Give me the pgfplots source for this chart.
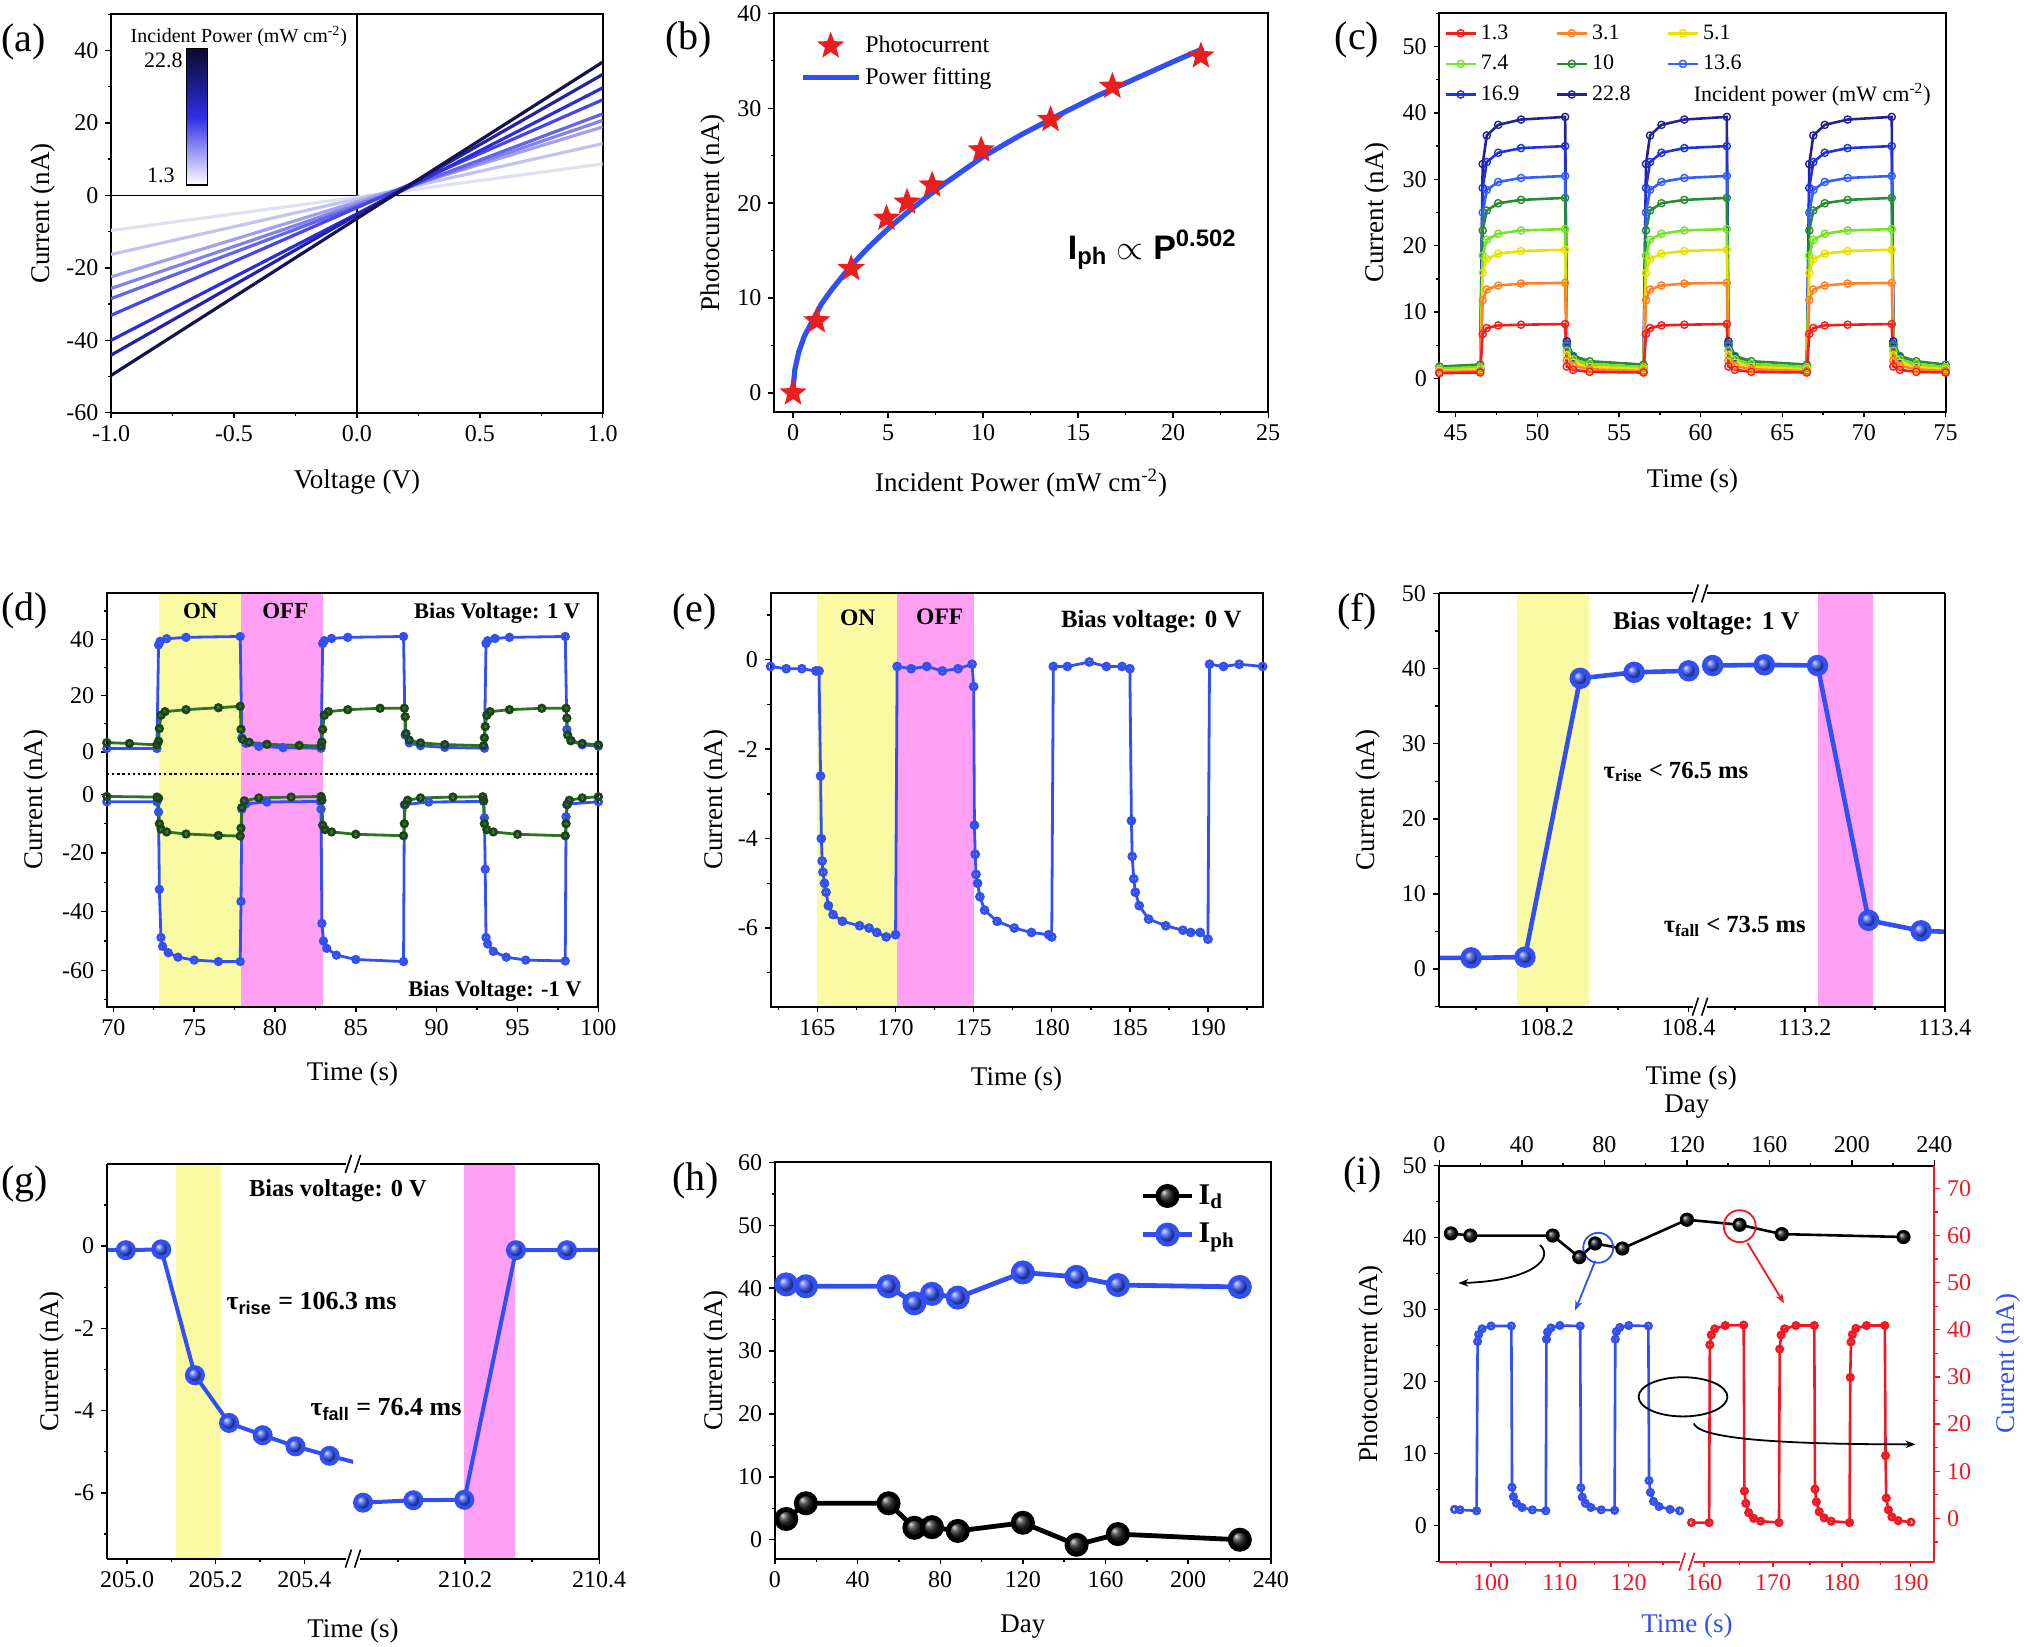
\documentclass[border=0pt]{standalone}
\usepackage{fontspec}
\setmainfont{Liberation Serif}
\setsansfont{Liberation Sans}
\usepackage{pgfplots}
\pgfplotsset{compat=1.18}
\usepackage{pgfplotstable}
\usetikzlibrary{arrows.meta}

\definecolor{mblue}{RGB}{50,80,240}
\definecolor{yel}{RGB}{250,250,165}
\definecolor{pnk}{RGB}{255,160,245}
\definecolor{dgreen}{RGB}{45,115,35}
\definecolor{ired}{RGB}{240,25,35}
\definecolor{sred}{RGB}{235,30,30}
\definecolor{a1}{RGB}{225,225,245}
\definecolor{a2}{RGB}{195,195,240}
\definecolor{a3}{RGB}{160,160,238}
\definecolor{a4}{RGB}{130,130,238}
\definecolor{a5}{RGB}{100,100,238}
\definecolor{a6}{RGB}{70,70,236}
\definecolor{a7}{RGB}{45,45,222}
\definecolor{a8}{RGB}{35,35,170}
\definecolor{a9}{RGB}{20,20,80}
\definecolor{cA}{RGB}{240,30,30}
\definecolor{cB}{RGB}{255,130,40}
\definecolor{cC}{RGB}{235,225,0}
\definecolor{cD}{RGB}{120,225,40}
\definecolor{cE}{RGB}{40,140,50}
\definecolor{cF}{RGB}{50,95,255}
\definecolor{cG}{RGB}{30,50,225}
\definecolor{cH}{RGB}{35,35,150}
\definecolor{cbtop}{RGB}{10,10,40}
\definecolor{cbmid}{RGB}{45,45,230}

\newcommand{\tkf}{\fontsize{12}{14}\selectfont}
\newcommand{\xlf}{\fontsize{13.5}{16}\selectfont}
\newcommand{\ylf}{\fontsize{13.5}{16}\selectfont}
\newcommand{\plf}{\fontsize{20}{22}\selectfont}

\newcommand{\brk}[3][black]{%
  \draw[#1,line width=0.8pt] ({#2-3.8pt},{#3-4.5pt}) -- ({#2-0.8pt},{#3+4.5pt});
  \draw[#1,line width=0.8pt] ({#2+0.8pt},{#3-4.5pt}) -- ({#2+3.8pt},{#3+4.5pt});}

\pgfdeclareplotmark{fstar}{%
  \pgfpathmoveto{\pgfpointpolar{90}{\pgfplotmarksize}}%
  \pgfpathlineto{\pgfpointpolar{126}{0.42*\pgfplotmarksize}}%
  \pgfpathlineto{\pgfpointpolar{162}{\pgfplotmarksize}}%
  \pgfpathlineto{\pgfpointpolar{198}{0.42*\pgfplotmarksize}}%
  \pgfpathlineto{\pgfpointpolar{234}{\pgfplotmarksize}}%
  \pgfpathlineto{\pgfpointpolar{270}{0.42*\pgfplotmarksize}}%
  \pgfpathlineto{\pgfpointpolar{306}{\pgfplotmarksize}}%
  \pgfpathlineto{\pgfpointpolar{342}{0.42*\pgfplotmarksize}}%
  \pgfpathlineto{\pgfpointpolar{18}{\pgfplotmarksize}}%
  \pgfpathlineto{\pgfpointpolar{54}{0.42*\pgfplotmarksize}}%
  \pgfpathclose
  \pgfusepathqfill}

\pgfplotsset{
  panel/.style={
    scale only axis,
    tick align=outside,
    xtick pos=left, ytick pos=left,
    major tick length=2.8pt,
    minor tick length=1.6pt,
    tick style={black, line width=0.7pt},
    axis line style={line width=1pt},
    tick label style={font=\tkf},
    /pgf/number format/assume math mode=true,
    xlabel style={font=\xlf},
    ylabel style={font=\ylf},
  },
}

% ---------- data (c)
\pgfplotstableread{
t a b c d e f g h
44.0 0.8 1.0 1.2 1.5 1.8 1.2 1.0 0.9
46.5 0.9 1.1 1.4 1.7 2.1 1.5 1.4 1.3
46.65 6.7 11.8 15.9 18.5 22.3 25.0 28.7 32.3
46.9 7.6 13.4 18.0 20.9 25.3 28.4 32.6 36.6
47.6 8.0 14.0 18.8 21.8 26.4 29.6 34.0 38.2
49.0 8.1 14.3 19.2 22.3 26.9 30.2 34.7 39.0
51.7 8.2 14.4 19.4 22.5 27.2 30.5 35.0 39.4
51.8 1.8 2.7 3.5 4.2 5.1 4.9 5.2 5.6
52.2 1.3 1.9 2.4 2.9 3.4 3.0 3.1 3.3
53.2 1.0 1.4 1.8 2.2 2.6 2.1 2.0 2.1
56.5 0.9 1.1 1.4 1.7 2.1 1.5 1.4 1.3
56.65 6.7 11.8 15.9 18.5 22.3 25.0 28.7 32.3
56.9 7.6 13.4 18.0 20.9 25.3 28.4 32.6 36.6
57.6 8.0 14.0 18.8 21.8 26.4 29.6 34.0 38.2
59.0 8.1 14.3 19.2 22.3 26.9 30.2 34.7 39.0
61.6 8.2 14.4 19.4 22.5 27.2 30.5 35.0 39.4
61.7 1.8 2.7 3.5 4.2 5.1 4.9 5.2 5.6
62.1 1.3 1.9 2.4 2.9 3.4 3.0 3.1 3.3
63.1 1.0 1.4 1.8 2.2 2.6 2.1 2.0 2.1
66.5 0.9 1.1 1.4 1.7 2.1 1.5 1.4 1.3
66.65 6.7 11.8 15.9 18.5 22.3 25.0 28.7 32.3
66.9 7.6 13.4 18.0 20.9 25.3 28.4 32.6 36.6
67.6 8.0 14.0 18.8 21.8 26.4 29.6 34.0 38.2
69.0 8.1 14.3 19.2 22.3 26.9 30.2 34.7 39.0
71.7 8.2 14.4 19.4 22.5 27.2 30.5 35.0 39.4
71.8 1.8 2.7 3.5 4.2 5.1 4.9 5.2 5.6
72.2 1.3 1.9 2.4 2.9 3.4 3.0 3.1 3.3
73.2 1.0 1.4 1.8 2.2 2.6 2.1 2.0 2.1
75.0 0.9 1.1 1.4 1.7 2.1 1.5 1.4 1.3
}\dataC

% ---------- data (d)
\pgfplotstableread{
t y
69.6 1.2
72.7 1.2
72.8 38.0
72.9 39.3
73.3 40.2
74.5 40.7
77.85 41.0
77.95 5.0
78.2 3.0
79.0 2.0
80.5 1.5
82.85 1.3
82.95 38.5
83.05 39.5
83.5 40.3
84.5 40.7
87.95 41.0
88.05 6.0
88.3 3.2
89.0 2.2
90.5 1.6
92.95 1.3
93.05 38.5
93.15 39.5
93.6 40.3
94.5 40.7
97.95 41.0
98.05 8.0
98.3 4.0
99.0 2.5
100 2.0
}\dUB
\pgfplotstableread{
t y
69.6 3.3
71.0 3.0
72.7 2.5
72.8 3.8
72.85 8.3
72.95 13.0
73.2 14.3
74.5 15.0
76.5 15.7
77.85 16.2
77.9 8.0
78.0 4.5
78.4 3.4
79.5 2.7
81.5 2.3
82.85 2.1
82.9 3.5
82.95 8.0
83.05 13.0
83.3 14.3
84.5 15.0
86.5 15.5
88.0 15.5
88.05 12.5
88.1 6.5
88.3 4.2
89.0 3.2
90.5 2.6
92.9 2.2
92.95 5.0
93.0 9.0
93.1 13.0
93.3 14.3
94.5 15.0
96.5 15.5
98.0 15.5
98.05 12.0
98.1 6.0
98.3 4.0
99.0 3.0
100 2.5
}\dUG
\pgfplotstableread{
t y
69.6 -2.5
72.7 -2.5
72.8 -6
72.85 -32.4
72.95 -48.8
73.05 -51.8
73.4 -54.0
74.0 -55.5
75.0 -56.5
76.5 -57.0
77.85 -57.0
77.9 -36.5
77.95 -5.0
78.2 -3.2
79.5 -2.6
82.8 -2.4
82.85 -5
82.9 -44.0
83.0 -50.0
83.2 -52.5
83.8 -54.8
85.0 -56.3
87.95 -57.0
88.0 -3.5
89.5 -2.6
92.9 -2.4
92.95 -8
93.0 -25.5
93.05 -48.8
93.15 -51.0
93.5 -53.5
94.3 -55.5
95.5 -56.5
97.95 -56.8
98.0 -7.6
98.1 -3.3
100 -2.5
}\dLB
\pgfplotstableread{
t y
69.6 -0.7
72.7 -0.9
72.8 -1.3
72.85 -10.0
72.95 -11.8
73.3 -12.8
74.5 -13.5
76.5 -14.0
77.85 -14.2
77.9 -11.5
77.95 -4.5
78.1 -2.2
79 -1.2
81 -0.9
82.85 -0.7
82.9 -2
82.95 -10.5
83.1 -12.0
83.5 -12.8
85 -13.6
87.95 -14.1
88.0 -10
88.05 -3.5
88.2 -2
89 -1.2
91 -0.9
92.85 -0.8
92.9 -2
92.95 -10.0
93.1 -12
93.5 -12.8
95 -13.6
97.95 -14.1
98.0 -10
98.05 -3.5
98.2 -2
99 -1.2
100 -0.8
}\dLG

% ---------- data (e)
\pgfplotstableread{
t y
162.0 -0.15
163.0 -0.2
164.0 -0.2
164.9 -0.25
165.1 -0.25
165.2 -2.6
165.25 -4.0
165.3 -4.5
165.35 -4.75
165.45 -5.0
165.55 -5.2
165.7 -5.5
166.0 -5.7
166.6 -5.85
167.7 -5.95
168.3 -6.0
168.8 -6.1
169.4 -6.2
170.0 -6.15
170.1 -0.15
171.0 -0.2
172.0 -0.15
173.0 -0.25
174.0 -0.2
174.9 -0.1
175.0 -0.6
175.05 -3.7
175.1 -4.35
175.15 -4.8
175.25 -5.0
175.4 -5.3
175.7 -5.6
176.5 -5.85
177.6 -6.0
178.7 -6.1
179.8 -6.15
180.0 -6.2
180.1 -0.15
181.0 -0.15
182.4 -0.05
183.5 -0.15
184.5 -0.15
185.0 -0.2
185.1 -3.6
185.15 -4.4
185.25 -4.9
185.35 -5.2
185.6 -5.5
186.2 -5.8
187.3 -5.95
188.4 -6.05
188.9 -6.1
189.5 -6.1
190.0 -6.25
190.1 -0.1
191.0 -0.15
192.0 -0.1
193.5 -0.15
}\dataE

% ---------- data (i)
\pgfplotstableread{
t y
94.7 1.9
95.5 1.8
97.9 1.6
98.05 37.5
98.2 39.0
98.7 40.2
100.0 40.8
102.95 40.8
103.05 6.6
103.25 4.6
103.7 3.2
104.5 2.3
106.0 1.8
107.95 1.6
108.05 38.0
108.2 39.5
108.7 40.4
110.0 40.9
112.95 40.8
113.05 6.5
113.25 4.5
113.7 3.2
114.5 2.3
116.0 1.8
117.95 1.7
118.05 38.0
118.2 39.6
118.7 40.5
120.0 40.9
122.85 40.8
122.95 8.0
123.15 5.5
123.6 3.6
124.4 2.5
126.0 1.9
127.4 1.6
}\dIB
\pgfplotstableread{
t y
158.2 -0.9
160.7 -0.9
160.8 36.8
161.0 38.9
161.5 40.2
163.0 40.9
165.6 41.0
165.7 5.8
165.9 3.2
166.3 1.2
167.0 0.0
168.0 -0.6
170.6 -0.9
170.7 35.9
170.9 38.9
171.4 40.2
173.0 40.9
175.6 40.9
175.7 6.2
175.9 3.5
176.3 1.4
177.0 0.1
178.0 -0.6
180.6 -0.9
180.7 29.9
180.8 37.4
181.0 39.0
181.5 40.3
183.0 40.9
185.6 40.9
185.7 13.3
185.8 4.3
186.1 1.8
186.6 0.3
187.5 -0.5
189.3 -0.8
}\dIR

\begin{document}
\begin{tikzpicture}
\useasboundingbox (0,0) rectangle (1012pt,-823.5pt);

% ================= (a)
\begin{axis}[panel, at={(55.55pt,-206.35pt)}, anchor=south west, width=245.8pt, height=199.2pt,
  xmin=-1, xmax=1, ymin=-60, ymax=50,
  xtick={-1,-0.5,0,0.5,1}, minor xtick={-0.75,-0.25,0.25,0.75},
  ytick={-60,-40,-20,0,20,40}, minor ytick={-50,-30,-10,10,30,50},
  xticklabel style={/pgf/number format/fixed, /pgf/number format/fixed zerofill, /pgf/number format/precision=1},
  xlabel={Voltage (V)}, ylabel={Current (nA)},
  xlabel style={at={(axis description cs:0.5,-0.173)}, anchor=center},
  ylabel style={at={(axis description cs:-0.139,0.5)}, anchor=center},
]
\draw[line width=0.7pt] (axis cs:-1,0) -- (axis cs:1,0);
\draw[line width=0.7pt] (axis cs:0,-60) -- (axis cs:0,50);
\addplot[a1, line width=1.6pt] coordinates {(-1,-9.7) (0,-0.5) (1,8.7)};
\addplot[a2, line width=1.6pt] coordinates {(-1,-16.3) (0,-1.0) (1,14.3)};
\addplot[a3, line width=1.6pt] coordinates {(-1,-22.5) (0,-1.8) (1,18.9)};
\addplot[a4, line width=1.6pt] coordinates {(-1,-25.7) (0,-2.5) (1,20.7)};
\addplot[a5, line width=1.6pt] coordinates {(-1,-28.5) (0,-3.0) (1,22.5)};
\addplot[a6, line width=1.6pt] coordinates {(-1,-33.1) (0,-3.4) (1,26.4)};
\addplot[a7, line width=1.6pt] coordinates {(-1,-40.0) (0,-5.1) (1,29.7)};
\addplot[a8, line width=1.6pt] coordinates {(-1,-44.1) (0,-5.4) (1,33.4)};
\addplot[a9, line width=1.6pt] coordinates {(-1,-49.7) (0,-6.4) (1,36.8)};
\end{axis}
\shadedraw[top color=cbtop, bottom color=white, middle color=cbmid, draw=black, line width=0.6pt] (93.35pt,-24.15pt) rectangle (103.65pt,-92.5pt);
\node[anchor=east, font=\fontsize{11}{13}\selectfont, inner sep=0.5pt] at (92pt,-30pt) {22.8};
\node[anchor=east, font=\fontsize{11}{13}\selectfont, inner sep=0.5pt] at (88pt,-87.8pt) {1.3};
\node[font=\fontsize{10}{12}\selectfont] at (119.45pt,-18.35pt) {Incident Power (mW cm\textsuperscript{-2})};

% ================= (b)
\begin{axis}[panel, at={(387pt,-206pt)}, anchor=south west, width=247.1pt, height=199.35pt,
  xmin=-1, xmax=25, ymin=-2, ymax=40,
  xtick={0,5,...,25}, minor xtick={2.5,7.5,...,22.5},
  ytick={0,10,...,40}, minor ytick={5,15,...,35},
  xlabel={Incident Power (mW cm\textsuperscript{-2})}, ylabel={Photocurrent (nA)},
  xlabel style={at={(axis description cs:0.5,-0.178)}, anchor=center},
  ylabel style={at={(axis description cs:-0.123,0.5)}, anchor=center},
  legend style={at={(0.052,0.955)}, anchor=north west, draw=none, fill=none, inner sep=0pt, font=\fontsize{12}{14}\selectfont, row sep=2pt},
  legend cell align=left,
  legend image code/.code={\draw[mark repeat=2,mark phase=2,#1] plot coordinates {(0pt,0pt) (14pt,0pt) (28pt,0pt)};},
]
\addplot[only marks, mark=fstar, mark size=7.2pt, color=sred] coordinates {(0,0) (1.25,7.6) (3.06,13.1) (4.92,18.4) (6.0,20.1) (7.32,21.9) (9.9,25.6) (13.55,28.8) (16.8,32.3) (21.46,35.5)};
\addlegendentry{Photocurrent}
\addplot[mblue, line width=2.6pt] coordinates {(0,0.5) (0.1,2.5) (0.3,4.3) (0.6,6.0) (1,7.5) (1.5,9.4) (2,10.8) (3,13.3) (4,15.4) (5,17.3) (6,19.0) (7,20.6) (8,22.1) (10,24.9) (12,27.2) (14,29.3) (16,31.3) (18,33.1) (20,34.9) (21.6,36.3)};
\addlegendentry{Power fitting}
\node[font=\sffamily\bfseries\fontsize{17}{20}\selectfont] at (axis cs:18.9,15.1) {I\textsubscript{ph} $\propto$ P\textsuperscript{0.502}};
\end{axis}

% ================= (c)
\begin{axis}[panel, at={(719.7pt,-205.85pt)}, anchor=south west, width=253.1pt, height=199.2pt,
  xmin=44, xmax=75, ymin=-5, ymax=55,
  xtick={45,50,...,75}, minor xtick={47.5,52.5,...,72.5},
  ytick={0,10,...,50}, minor ytick={-5,5,...,55},
  xlabel={Time (s)}, ylabel={Current (nA)},
  xlabel style={at={(axis description cs:0.5,-0.175)}, anchor=center},
  ylabel style={at={(axis description cs:-0.123,0.5)}, anchor=center},
  legend columns=3, reverse legend,
  legend style={at={(0.009,0.983)}, anchor=north west, draw=none, fill=none, inner sep=0pt, font=\fontsize{11}{13}\selectfont, row sep=2.5pt,
    /tikz/every even column/.append style={column sep=16pt}},
  legend cell align=left,
  legend image code/.code={\draw[mark repeat=2,mark phase=2,#1] plot coordinates {(0pt,0pt) (7.5pt,0pt) (15pt,0pt)};},
  every axis plot/.append style={line width=1.3pt, mark=o, mark size=1.8pt, mark options={line width=0.7pt}},
]
\addplot[cH] table[x=t,y=h]{\dataC}; \addlegendentry{22.8}
\addplot[cG] table[x=t,y=g]{\dataC}; \addlegendentry{16.9}
\addplot[cF] table[x=t,y=f]{\dataC}; \addlegendentry{13.6}
\addplot[cE] table[x=t,y=e]{\dataC}; \addlegendentry{10}
\addplot[cD] table[x=t,y=d]{\dataC}; \addlegendentry{7.4}
\addplot[cC] table[x=t,y=c]{\dataC}; \addlegendentry{5.1}
\addplot[cB] table[x=t,y=b]{\dataC}; \addlegendentry{3.1}
\addplot[cA] table[x=t,y=a]{\dataC}; \addlegendentry{1.3}
\end{axis}
\node[anchor=west, font=\fontsize{11}{13}\selectfont, inner sep=0pt] at (846.7pt,-47.5pt) {Incident power (mW cm\textsuperscript{-2})};

% ================= (d)
\begin{axis}[panel, axis on top, at={(53.4pt,-503.35pt)}, anchor=south west, width=245.8pt, height=207pt,
  xmin=69.6, xmax=100, ymin=-72.4, ymax=68.8,
  xtick={70,75,...,100}, minor xtick={72.5,77.5,...,97.5},
  ytick={-60,-40,-20,0,14.5,33.7,52.9}, yticklabels={-60,-40,-20,0,0,20,40},
  minor ytick={-70,-50,-30,-10,24.1,43.3,62.5},
  xlabel={Time (s)}, ylabel={Current (nA)},
  xlabel style={at={(axis description cs:0.5,-0.162)}, anchor=center},
  ylabel style={at={(axis description cs:-0.144,0.5)}, anchor=center},
]
\fill[yel] (axis cs:72.8,-72.4) rectangle (axis cs:77.9,68.8);
\fill[pnk] (axis cs:77.9,-72.4) rectangle (axis cs:83.0,68.8);
\draw[line width=0.9pt, dash pattern=on 1.2pt off 1.4pt] (axis cs:69.6,7.06) -- (axis cs:100,7.06);
\addplot[mblue, line width=1.4pt, mark=o, mark size=1.6pt] table[x=t, y expr={14.5+0.96*\thisrow{y}}]{\dUB};
\addplot[dgreen, line width=1.4pt, mark=o, mark size=1.6pt, mark options={black!40!dgreen}] table[x=t, y expr={14.5+0.96*\thisrow{y}}]{\dUG};
\addplot[mblue, line width=1.4pt, mark=o, mark size=1.6pt] table[x=t, y=y]{\dLB};
\addplot[dgreen, line width=1.4pt, mark=o, mark size=1.6pt, mark options={black!40!dgreen}] table[x=t, y=y]{\dLG};
\node[font=\fontsize{11.5}{13}\selectfont\bfseries] at (axis cs:75.38,62.5) {ON};
\node[font=\fontsize{11.5}{13}\selectfont\bfseries] at (axis cs:80.64,62.5) {OFF};
\node[font=\fontsize{11.2}{13}\selectfont\bfseries, anchor=east] at (axis cs:99.3,61.8) {Bias Voltage: 1 V};
\node[font=\fontsize{11.2}{13}\selectfont\bfseries, anchor=east] at (axis cs:99.4,-67) {Bias Voltage: -1 V};
\end{axis}

% ================= (e)
\begin{axis}[panel, axis on top, at={(385.3pt,-503.35pt)}, anchor=south west, width=246pt, height=207pt,
  xmin=162, xmax=193.5, ymin=-7.76, ymax=1.5,
  xtick={165,170,...,190}, minor xtick={162.5,167.5,...,192.5},
  ytick={-6,-4,-2,0}, minor ytick={-7,-5,-3,-1,1},
  xlabel={Time (s)}, ylabel={Current (nA)},
  xlabel style={at={(axis description cs:0.5,-0.174)}, anchor=center},
  ylabel style={at={(axis description cs:-0.111,0.5)}, anchor=center},
]
\fill[yel] (axis cs:165.0,-7.76) rectangle (axis cs:170.1,1.5);
\fill[pnk] (axis cs:170.1,-7.76) rectangle (axis cs:175.0,1.5);
\addplot[mblue, line width=1.4pt, mark=o, mark size=1.7pt] table[x=t,y=y]{\dataE};
\node[font=\fontsize{11.8}{13}\selectfont\bfseries] at (axis cs:167.58,0.93) {ON};
\node[font=\fontsize{11.8}{13}\selectfont\bfseries] at (axis cs:172.83,0.97) {OFF};
\node[font=\fontsize{12.4}{14}\selectfont\bfseries, anchor=east] at (axis cs:192.6,0.86) {Bias voltage: 0 V};
\end{axis}

% ================= (f)
\begin{axis}[panel, at={(719.25pt,-503.35pt)}, anchor=south west, width=130.75pt, height=206.65pt,
  axis line style={draw=none},
  xmin=108.047, xmax=108.416, ymin=-5, ymax=50,
  xtick={108.2,108.4}, minor xtick={108.1,108.3},
  ytick={0,10,...,50}, minor ytick={-5,5,...,45},
]
\fill[yel] (axis cs:108.158,-5) rectangle (axis cs:108.259,50);
\addplot[mblue, line width=2.3pt, mark=ball, mark size=4.2pt, mark options={ball color=mblue}] coordinates {(108.0,1.5) (108.093,1.5) (108.169,1.6) (108.247,38.7) (108.323,39.5) (108.40,39.7)};
\end{axis}
\begin{axis}[panel, at={(850pt,-503.35pt)}, anchor=south west, width=122.4pt, height=206.65pt,
  axis line style={draw=none},
  xmin=113.05, xmax=113.4, ymin=-5, ymax=50,
  xtick={113.2,113.4}, minor xtick={113.1,113.3},
  ytick=\empty,
]
\fill[pnk] (axis cs:113.219,-5) rectangle (axis cs:113.298,50);
\addplot[mblue, line width=2.3pt, mark=ball, mark size=4.2pt, mark options={ball color=mblue}] coordinates {(113.068,40.4) (113.142,40.5) (113.218,40.4) (113.291,6.5) (113.366,5.1) (113.45,4.8)};
\end{axis}
\draw[line width=1pt] (719.25pt,-296.7pt) -- (846.5pt,-296.7pt) (853.5pt,-296.7pt) -- (972.4pt,-296.7pt);
\draw[line width=1pt] (719.25pt,-503.35pt) -- (846.5pt,-503.35pt) (853.5pt,-503.35pt) -- (972.4pt,-503.35pt);
\draw[line width=1pt] (719.25pt,-296.7pt) -- (719.25pt,-503.35pt) (972.4pt,-296.7pt) -- (972.4pt,-503.35pt);
\brk{850pt}{-296.7pt}
\brk{850pt}{-503.35pt}
\node[font=\fontsize{12.8}{15}\selectfont\bfseries] at (853.15pt,-311.85pt) {Bias voltage: 1 V};
\node[font=\fontsize{12.3}{14}\selectfont\bfseries, anchor=west] at (798.25pt,-385.9pt) {τ\textsubscript{rise} < 76.5 ms};
\node[font=\fontsize{12.3}{14}\selectfont\bfseries, anchor=west] at (828.4pt,-463.4pt) {τ\textsubscript{fall} < 73.5 ms};
\node[font=\xlf] at (845.6pt,-539.15pt) {Time (s)};
\node[font=\ylf, rotate=90] at (684.2pt,-400pt) {Current (nA)};

% ================= (g)
\begin{axis}[panel, at={(53.4pt,-779.3pt)}, anchor=south west, width=123.1pt, height=197.4pt,
  axis line style={draw=none},
  xmin=204.954, xmax=205.51, ymin=-7.6, ymax=2.0,
  xtick={205.0,205.2,205.4}, minor xtick={205.1,205.3},
  ytick={-6,-4,-2,0}, minor ytick={-7,-5,-3,-1,1},
  xticklabel style={/pgf/number format/fixed, /pgf/number format/fixed zerofill, /pgf/number format/precision=1},
]
\fill[yel] (axis cs:205.111,-7.6) rectangle (axis cs:205.213,2.0);
\addplot[mblue, line width=2pt, mark=ball, mark size=4pt, mark options={ball color=mblue}] coordinates {(204.9,-0.08) (204.997,-0.1) (205.077,-0.08) (205.153,-3.14) (205.23,-4.3) (205.306,-4.6) (205.38,-4.87) (205.457,-5.1) (205.53,-5.3)};
\end{axis}
\begin{axis}[panel, at={(176.5pt,-779.3pt)}, anchor=south west, width=123.1pt, height=197.4pt,
  axis line style={draw=none},
  xmin=210.033, xmax=210.4, ymin=-7.6, ymax=2.0,
  xtick={210.2,210.4}, minor xtick={210.1,210.3},
  ytick=\empty,
  xticklabel style={/pgf/number format/fixed, /pgf/number format/fixed zerofill, /pgf/number format/precision=1},
]
\fill[pnk] (axis cs:210.198,-7.6) rectangle (axis cs:210.274,2.0);
\addplot[mblue, line width=2pt, mark=ball, mark size=4pt, mark options={ball color=mblue}] coordinates {(210.048,-6.24) (210.123,-6.18) (210.199,-6.17) (210.276,-0.1) (210.352,-0.1) (210.45,-0.08)};
\end{axis}
\draw[line width=1pt] (53.4pt,-581.9pt) -- (173pt,-581.9pt) (180pt,-581.9pt) -- (299.6pt,-581.9pt);
\draw[line width=1pt] (53.4pt,-779.3pt) -- (173pt,-779.3pt) (180pt,-779.3pt) -- (299.6pt,-779.3pt);
\draw[line width=1pt] (53.4pt,-581.9pt) -- (53.4pt,-779.3pt) (299.6pt,-581.9pt) -- (299.6pt,-779.3pt);
\brk{176.5pt}{-581.9pt}
\brk{176.5pt}{-779.3pt}
\node[font=\fontsize{12.2}{14}\selectfont\bfseries] at (168.95pt,-595.25pt) {Bias voltage: 0 V};
\node[font=\fontsize{13}{15}\selectfont\bfseries, anchor=west] at (109.75pt,-651.75pt) {τ\textsubscript{\sffamily rise} = 106.3 ms};
\node[font=\fontsize{13}{15}\selectfont\bfseries, anchor=west] at (151.75pt,-704.85pt) {τ\textsubscript{\sffamily fall} = 76.4 ms};
\node[font=\xlf] at (176.5pt,-815.3pt) {Time (s)};
\node[font=\ylf, rotate=90] at (25.85pt,-680.6pt) {Current (nA)};

% ================= (h)
\begin{axis}[panel, at={(387.45pt,-779.3pt)}, anchor=south west, width=247.95pt, height=198.1pt,
  xmin=0, xmax=240, ymin=-3, ymax=60,
  xtick={0,40,...,240}, minor xtick={20,60,...,220},
  ytick={0,10,...,60}, minor ytick={5,15,...,55},
  xlabel={Day}, ylabel={Current (nA)},
  xlabel style={at={(axis description cs:0.5,-0.172)}, anchor=center},
  ylabel style={at={(axis description cs:-0.118,0.5)}, anchor=center},
  legend style={at={(0.736,0.955)}, anchor=north west, draw=none, fill=none, inner sep=0pt, font=\fontsize{15}{17}\selectfont\bfseries, row sep=4pt},
  legend cell align=left,
  legend image code/.code={\draw[mark repeat=2,mark phase=2,#1] plot coordinates {(0pt,0pt) (12.4pt,0pt) (24.8pt,0pt)};},
]
\addplot[black, line width=2.4pt, mark=ball, mark size=4.8pt, mark options={ball color=black!85}] coordinates {(5.5,3.3) (15,5.8) (55,5.8) (67.5,1.9) (76,2.0) (88.5,1.4) (120,2.7) (146,-0.8) (166,0.9) (225,0.0)};
\addlegendentry{I\textsubscript{d}}
\addplot[mblue, line width=2.4pt, mark=ball, mark size=4.8pt, mark options={ball color=mblue}] coordinates {(5.5,40.6) (15,40.3) (55,40.3) (67.5,37.6) (76,39.1) (88.5,38.5) (120,42.5) (146,41.8) (166,40.5) (225,40.2)};
\addlegendentry{I\textsubscript{ph}}
\end{axis}

% ================= (i)
\begin{axis}[panel, at={(719.7pt,-780.85pt)}, anchor=south west, width=247.5pt, height=198pt,
  axis line style={draw=none},
  xmin=92.5, xmax=164.4, ymin=-9.2, ymax=74.8,
  xtick={100,110,120,130.96,140.96,150.96,160.96}, xticklabels={100,110,120,160,170,180,190},
  minor xtick={95,105,115,125,136.085,146.335,156.585},
  ytick={0,10,...,70}, minor ytick={-5,5,...,65},
  xtick pos=left, ytick pos=right, yticklabel pos=right,
  tick style={ired, line width=0.7pt},
  tick label style={font=\tkf, text=ired},
  xlabel={Time (s)}, ylabel={Current (nA)},
  xlabel style={at={(axis description cs:0.5,-0.162)}, anchor=center, text=mblue},
  ylabel style={at={(axis description cs:1.149,0.5)}, anchor=center, text=mblue},
]
\addplot[mblue, line width=1.3pt, mark=o, mark size=1.6pt] table[x=t,y=y]{\dIB};
\addplot[ired, line width=1.3pt, mark=o, mark size=1.6pt] table[x expr={130.96+1.025*(\thisrow{t}-160)}, y=y]{\dIR};
\end{axis}
\begin{axis}[panel, at={(719.7pt,-780.85pt)}, anchor=south west, width=247.5pt, height=198pt,
  axis line style={draw=none},
  xmin=0, xmax=240, ymin=-5, ymax=50,
  xtick={0,40,...,240}, minor xtick={20,60,...,220},
  ytick={0,10,...,50}, minor ytick={-5,5,...,45},
  xtick pos=right, xticklabel pos=right, ytick pos=left,
  xlabel={Day}, ylabel={Photocurrent (nA)},
  xlabel style={at={(axis description cs:0.5,1.15)}, anchor=center},
  ylabel style={at={(axis description cs:-0.139,0.5)}, anchor=center},
]
\addplot[black, line width=1.3pt, mark=ball, mark size=2.9pt, mark options={ball color=black!85}] coordinates {(5.6,40.6) (15,40.3) (54.9,40.3) (67.8,37.3) (75.5,39.2) (88.7,38.5) (120,42.5) (145.5,41.8) (166,40.5) (225,40.1)};
\draw[mblue, line width=0.9pt] (axis cs:77.0,38.6) circle[radius=7.5pt];
\draw[ired, line width=0.9pt] (axis cs:145.6,41.6) circle[radius=8pt];
\draw[mblue, line width=0.9pt, -{Stealth[length=5pt]}] (axis cs:75.6,36.8) -- (axis cs:65.8,29.9);
\draw[ired, line width=0.9pt, -{Stealth[length=5pt]}] (axis cs:149.3,39.3) -- (axis cs:167.1,30.9);
\draw[black, line width=0.9pt, -{Stealth[length=5pt]}] (axis cs:48.8,39.0) .. controls (axis cs:56,37) and (axis cs:44,34) .. (axis cs:9.2,33.7);
\draw[black, line width=0.9pt] (axis cs:118.1,17.9) ellipse [x radius=22.2pt, y radius=9.8pt];
\draw[black, line width=0.9pt, -{Stealth[length=5pt]}] (axis cs:123.3,14.2) .. controls (axis cs:126,12.2) and (axis cs:160,11.3) .. (axis cs:230.8,11.3);
\end{axis}
\draw[line width=1pt] (719.7pt,-582.85pt) -- (967.2pt,-582.85pt);
\draw[line width=1pt] (719.7pt,-582.85pt) -- (719.7pt,-780.85pt);
\draw[ired, line width=1pt] (967.2pt,-582.85pt) -- (967.2pt,-780.85pt);
\draw[ired, line width=1pt] (719.7pt,-780.85pt) -- (840pt,-780.85pt) (847pt,-780.85pt) -- (967.2pt,-780.85pt);
\brk[ired]{843.45pt}{-780.85pt}

% ================= panel labels
\node[font=\plf] at (11.85pt,-20.8pt) {(a)};
\node[font=\plf] at (344.25pt,-20pt) {(b)};
\node[font=\plf] at (678.5pt,-20pt) {(c)};
\node[font=\plf] at (12.4pt,-305.4pt) {(d)};
\node[font=\plf] at (347.25pt,-305.8pt) {(e)};
\node[font=\plf] at (678.5pt,-305.8pt) {(f)};
\node[font=\plf] at (12.4pt,-591.8pt) {(g)};
\node[font=\plf] at (347.75pt,-590.5pt) {(h)};
\node[font=\plf] at (681.25pt,-587.5pt) {(i)};
\end{tikzpicture}
\end{document}
